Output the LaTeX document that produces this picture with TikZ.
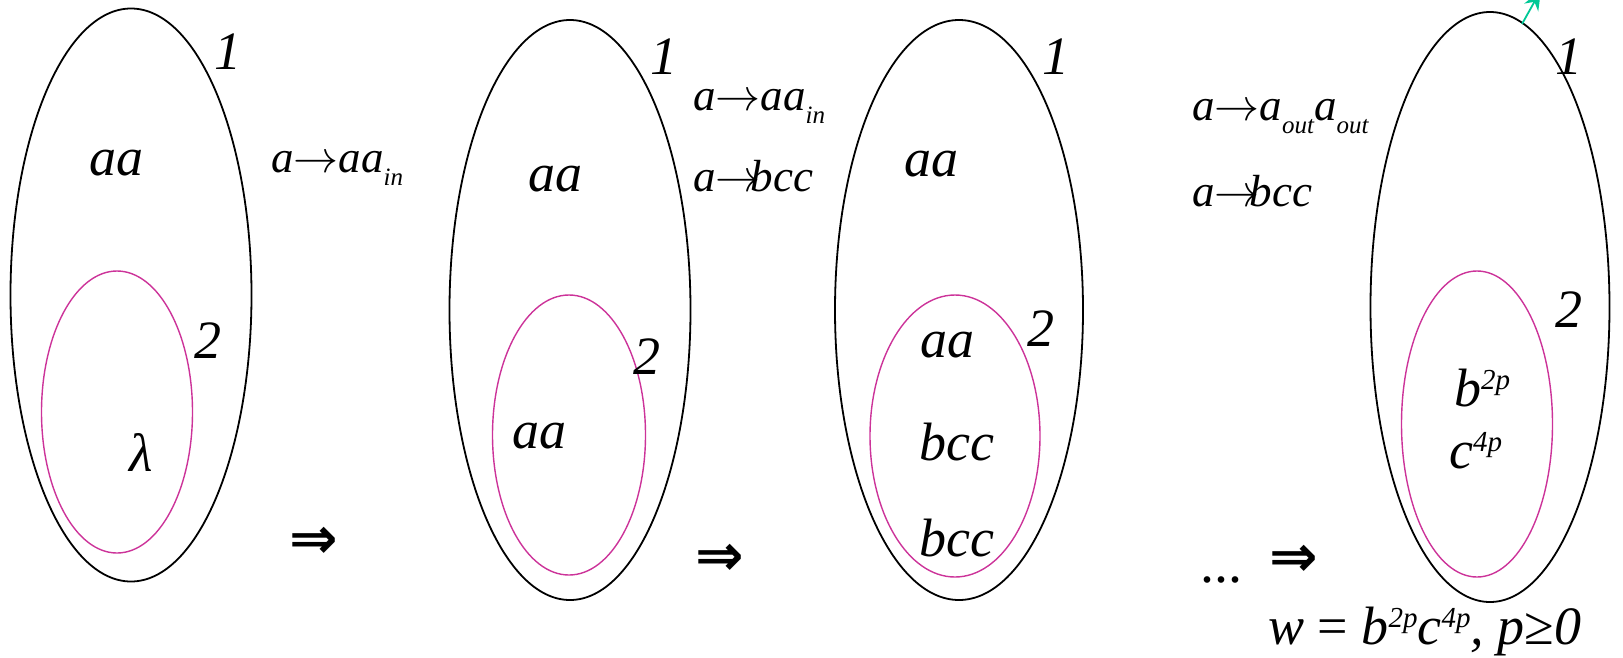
\RequirePackage{fix-cm}
\documentclass[tikz,border=0pt]{standalone}
\usepackage{fontspec}
\setmainfont{Liberation Serif}
\newfontfamily\arrowfont{DejaVu Sans}
\usetikzlibrary{shapes.geometric,arrows.meta}
\definecolor{membcol}{RGB}{204,51,153}
\definecolor{greenarr}{RGB}{0,200,150}
\newcommand\bigtxt{\fontsize{54}{60}\selectfont\itshape}
\newcommand\ruletxt{\fontsize{45}{50}\selectfont\itshape}
\newcommand\subtxt[1]{\raisebox{-0.3em}{\fontsize{25}{28}\selectfont\itshape #1}}
\newcommand\suptxt[1]{\raisebox{17pt}{\fontsize{29}{32}\selectfont\itshape #1}}
\newcommand\rarr{\ensuremath{\rightarrow}}
\tikzset{
  outerell/.style={ellipse, draw=black, line width=1.8pt, inner sep=0pt},
  innerell/.style={ellipse, draw=membcol, line width=1.4pt, inner sep=0pt},
  lab/.style={inner sep=0pt, font=\bigtxt},
  rulelab/.style={inner sep=0pt, anchor=base west, font=\ruletxt},
  implies/.style={inner sep=0pt, font=\arrowfont\bfseries\fontsize{58}{64}\selectfont},
}
\begin{document}
\begin{tikzpicture}[x=1pt,y=-1pt]
\useasboundingbox (0,0) rectangle (1623,657);
% panel 1
\node[outerell, minimum width=241pt, minimum height=573pt] (o1) at (131,295) {};
\node[innerell, minimum width=151pt, minimum height=282pt] (i1) at (117,412) {};
\node[lab] (one1) at (228,52) {1};
\node[lab] (aa1) at (116,163) {aa};
\node[lab] (two1) at (208,341) {2};
\node[lab] (lam1) at (141,452) {λ};
\node[rulelab] (r11) at (271,172) {a\rarr aa\subtxt{in}};
\node[implies] (imp1) at (314,543) {⇒};
% panel 2
\node[outerell, minimum width=241pt, minimum height=580pt] (o2) at (570,310) {};
\node[innerell, minimum width=153pt, minimum height=280pt] (i2) at (569,435) {};
\node[lab] (one2) at (664,57) {1};
\node[lab] (aa2) at (555,179) {aa};
\node[lab] (two2) at (647,357) {2};
\node[lab] (aa2i) at (539,436) {aa};
\node[rulelab] (r21) at (693,110) {a\rarr aa\subtxt{in}};
\node[rulelab] (r22) at (693,191) {a\rarr\kern-0.22em bcc};
\node[implies] (imp2) at (720,560) {⇒};
% panel 3
\node[outerell, minimum width=248pt, minimum height=580pt] (o3) at (959,310) {};
\node[innerell, minimum width=170pt, minimum height=282pt] (i3) at (955,436) {};
\node[lab] (one3) at (1056,57) {1};
\node[lab] (aa3) at (931,164) {aa};
\node[lab] (two3) at (1041,329) {2};
\node[lab] (aa3i) at (947,345) {aa};
\node[lab] (bcc3a) at (957,442) {bcc};
\node[lab] (bcc3b) at (957,538) {bcc};
% panel 4
\node[rulelab] (r41) at (1192,120) {a\rarr a\subtxt{out}a\subtxt{out}};
\node[rulelab] (r42) at (1192,206) {a\rarr\kern-0.22em bcc};
\node[inner sep=0pt, anchor=base, font=\fontsize{56}{60}\selectfont] (dots) at (1221,582) {...};
\node[implies] (imp3) at (1294,561) {⇒};
\node[outerell, minimum width=239pt, minimum height=590pt] (o4) at (1490,307) {};
\node[innerell, minimum width=151pt, minimum height=306pt] (i4) at (1477,424) {};
\node[lab] (one4) at (1569,57) {1};
\node[lab] (two4) at (1569,310) {2};
\node[lab, anchor=base west] (b4) at (1454,406) {b\suptxt{2p}};
\node[lab, anchor=base west] (c4) at (1449,468) {c\suptxt{4p}};
\node[lab, anchor=base west] (w4) at (1268,644) {w {\upshape =} b\suptxt{2p}c\suptxt{4p}, p{\upshape ≥}0};
% green arrow
\coordinate (ga) at (1522,24);
\coordinate (gb) at (1541,-10);
\draw[greenarr, line width=1.8pt, -{Stealth[length=20pt,width=16pt]}] (ga) -- (gb);
\end{tikzpicture}
\end{document}
